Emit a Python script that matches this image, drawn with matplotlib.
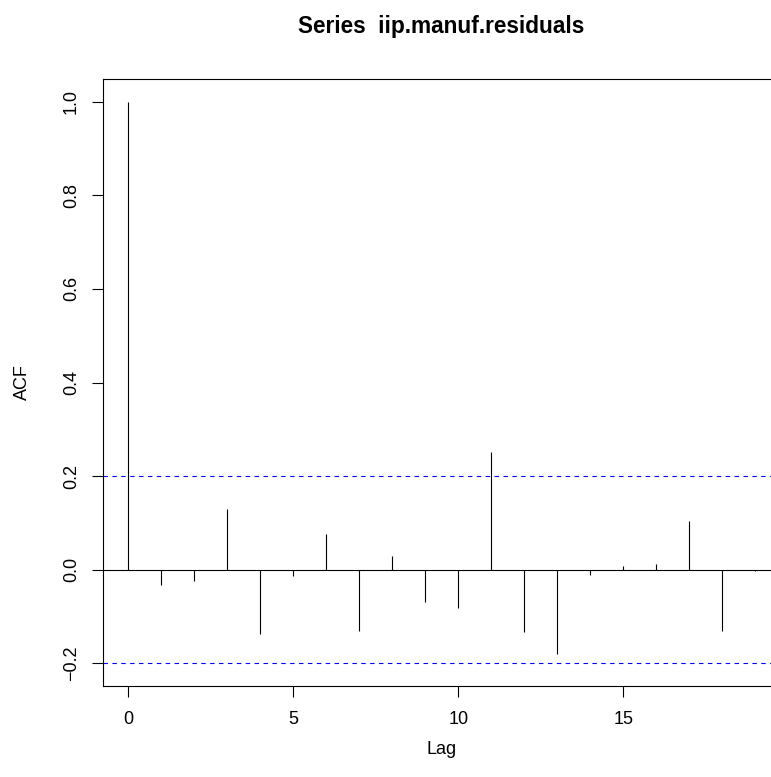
import matplotlib
matplotlib.use("Agg")
import matplotlib.pyplot as plt
import numpy as np

plt.rcParams['font.family'] = ['Liberation Sans', 'DejaVu Sans']

# ACF of residuals
lags = [0, 1, 2, 3, 4, 5, 6, 7, 8, 9, 10, 11, 12, 13, 14, 15, 16, 17, 18, 19]
acf_vals = [1.0, -0.033, -0.025, 0.13, -0.137, -0.013, 0.076, -0.130, 0.029, -0.070,
            -0.082, 0.251, -0.133, -0.181, -0.011, 0.007, 0.012, 0.105, -0.131, -0.002]
conf_limit = 0.2
y_ticks = [-0.2, 0.0, 0.2, 0.4, 0.6, 0.8, 1.0]
x_ticks = [0, 5, 10, 15]

W, H = 771, 777
fig = plt.figure(figsize=(W / 100, H / 100), dpi=100)
# plot region in pixels (box runs past the right edge of the picture)
left, right, top, bottom = 103, 780.4, 79.2, 685.8
ax = fig.add_axes([left / W, 1 - bottom / H, (right - left) / W, (bottom - top) / H])

ax.vlines(lags, 0, acf_vals, color='black', lw=0.8)
ax.axhline(0, color='black', lw=0.8)
ax.axhline(conf_limit, color='#0000FF', lw=0.8, ls=(0, (4, 4)))
ax.axhline(-conf_limit, color='#0000FF', lw=0.8, ls=(0, (4, 4)))

rng = max(lags) - min(lags)
ax.set_xlim(min(lags) - 0.04 * rng, max(lags) + 0.04 * rng)
ax.set_ylim(-0.248, 1.048)

ax.set_xticks(x_ticks)
ax.set_yticks(y_ticks)
ax.set_yticklabels(['\u22120.2', '0.0', '0.2', '0.4', '0.6', '0.8', '1.0'], rotation=90, va='center')
ax.tick_params(axis='both', direction='out', length=8, width=0.8, labelsize=13, color='black')
ax.tick_params(axis='x', pad=10)
ax.tick_params(axis='y', pad=8.5)
for s in ax.spines.values():
    s.set_linewidth(0.8)
    s.set_color('black')

fig.text(441.5 / W, 1 - 26 / H, 'Series  iip.manuf.residuals', ha='center', va='center',
         fontsize=16.3, fontweight='bold')
fig.text(441.5 / W, 1 - 749 / H, 'Lag', ha='center', va='center', fontsize=13)
fig.text(22 / W, 1 - 382 / H, 'ACF', ha='center', va='center', rotation=90, fontsize=13)

fig.savefig('out.png', dpi=100)
